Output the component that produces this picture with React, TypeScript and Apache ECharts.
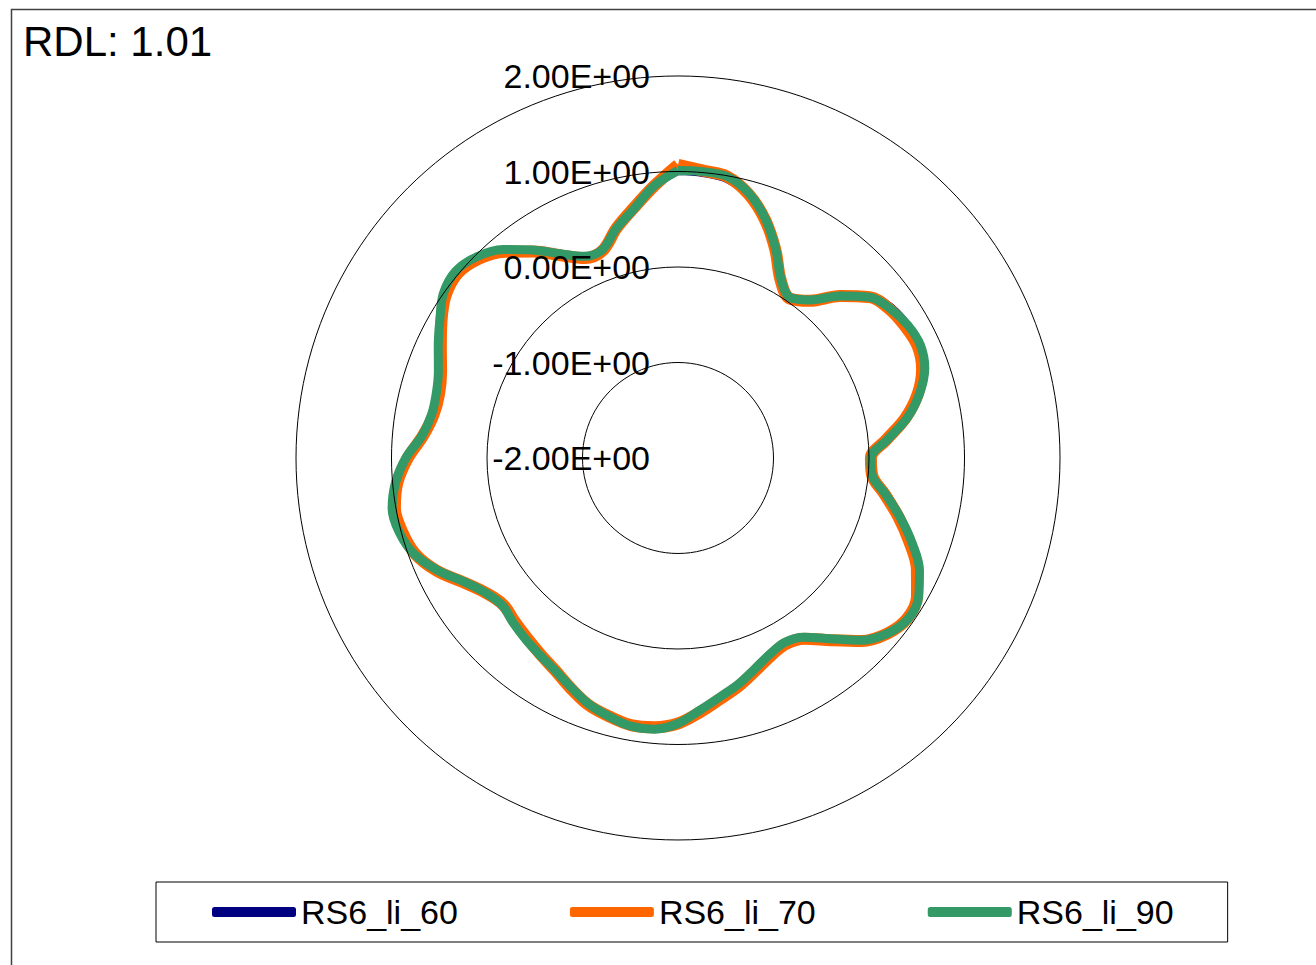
import React, { useEffect, useRef } from "react";
import * as echarts from "echarts";

const TITLE = "RDL: 1.01";
const SERIES_NAMES = ["RS6_li_60", "RS6_li_70", "RS6_li_90"];
const COLORS = ["#000080", "#FF6600", "#339966"];
const LINE_WIDTHS = [7, 12, 9];

const ANGLES = [
  0, 5, 10, 15, 20, 25, 30, 35, 40, 45, 50, 55,
  60, 65, 70, 75, 80, 85, 90, 95, 100, 105, 110, 115,
  120, 125, 130, 135, 140, 145, 150, 155, 160, 165, 170, 175,
  180, 185, 190, 195, 200, 205, 210, 215, 220, 225, 230, 235,
  240, 245, 250, 255, 260, 265, 270, 275, 280, 285, 290, 295,
  300, 305, 310, 315, 320, 325, 330, 335, 340, 345, 350, 355, 360,
];

const RS6_LI_60 = [
  1.0, 0.99, 0.96, 0.84, 0.65, 0.41, 0.16, 0.05, 0.16, 0.41, 0.64, 0.74,
  0.78, 0.79, 0.74, 0.61, 0.44, 0.21, 0.04, 0.06, 0.23, 0.42, 0.61, 0.79,
  0.9, 0.93, 0.86, 0.7, 0.48, 0.3, 0.25, 0.28, 0.36, 0.45, 0.54, 0.65,
  0.77, 0.84, 0.84, 0.8, 0.74, 0.65, 0.56, 0.5, 0.46, 0.43, 0.41, 0.47,
  0.6, 0.78, 0.93, 1.01, 1.03, 0.96, 0.84, 0.68, 0.61, 0.61, 0.66, 0.76,
  0.87, 0.99, 1.03, 0.97, 0.84, 0.65, 0.46, 0.32, 0.32, 0.49, 0.66, 0.86, 1.0,
];

const RS6_LI_70 = [
  1.07, 1.02, 0.99, 0.86, 0.66, 0.41, 0.15, 0.04, 0.15, 0.4, 0.62, 0.71,
  0.75, 0.77, 0.72, 0.6, 0.42, 0.19, 0.02, 0.04, 0.2, 0.39, 0.58, 0.76,
  0.89, 0.93, 0.86, 0.71, 0.49, 0.31, 0.25, 0.29, 0.37, 0.47, 0.56, 0.67,
  0.78, 0.83, 0.84, 0.8, 0.75, 0.66, 0.57, 0.51, 0.46, 0.42, 0.39, 0.46,
  0.6, 0.79, 0.93, 0.99, 1.01, 0.95, 0.83, 0.68, 0.6, 0.59, 0.64, 0.74,
  0.86, 0.97, 1.01, 0.95, 0.82, 0.64, 0.45, 0.31, 0.31, 0.49, 0.66, 0.86, 1.07,
];

const RS6_LI_90 = [
  1.01, 1.01, 0.99, 0.87, 0.67, 0.42, 0.16, 0.05, 0.16, 0.4, 0.62, 0.72,
  0.78, 0.8, 0.75, 0.62, 0.44, 0.2, 0.02, 0.04, 0.21, 0.41, 0.61, 0.79,
  0.91, 0.94, 0.86, 0.7, 0.47, 0.29, 0.23, 0.27, 0.35, 0.45, 0.54, 0.65,
  0.78, 0.85, 0.85, 0.8, 0.74, 0.65, 0.57, 0.52, 0.48, 0.44, 0.4, 0.46,
  0.59, 0.78, 0.94, 1.02, 1.04, 0.97, 0.85, 0.69, 0.62, 0.62, 0.67, 0.77,
  0.88, 1.0, 1.04, 0.98, 0.85, 0.66, 0.47, 0.33, 0.32, 0.49, 0.65, 0.86, 1.01,
];

const SERIES_VALUES = [RS6_LI_60, RS6_LI_70, RS6_LI_90];

const RADIUS_MIN = -2;
const RADIUS_MAX = 2;
const RADIUS_STEP = 1;

const FONT = "'Liberation Sans', Arial, Helvetica, sans-serif";

function sci(v: number): string {
  if (v === 0) return "0.00E+00";
  const sign = v < 0 ? "-" : "";
  const a = Math.abs(v);
  let e = Math.floor(Math.log10(a));
  let m = a / Math.pow(10, e);
  if (Math.round(m * 100) / 100 >= 10) {
    m /= 10;
    e += 1;
  }
  const es = (e < 0 ? "-" : "+") + String(Math.abs(e)).padStart(2, "0");
  return sign + m.toFixed(2) + "E" + es;
}

export default function App() {
  const ref = useRef<HTMLDivElement>(null);

  useEffect(() => {
    if (!ref.current) return;
    const chart = echarts.init(ref.current, null, { renderer: "svg" });
    chart.setOption({
      animation: false,
      backgroundColor: "#ffffff",
      title: {
        text: TITLE,
        left: 23,
        top: 20,
        padding: 0,
        textStyle: {
          fontFamily: FONT,
          fontSize: 42,
          fontWeight: "normal",
          color: "#000",
        },
      },
      polar: {
        center: [678, 458],
        radius: 382,
      },
      angleAxis: {
        type: "value",
        min: 0,
        max: 360,
        startAngle: 90,
        clockwise: true,
        axisLine: { show: false },
        axisTick: { show: false },
        axisLabel: { show: false },
        splitLine: { show: false },
      },
      radiusAxis: {
        type: "value",
        min: RADIUS_MIN,
        max: RADIUS_MAX,
        interval: RADIUS_STEP,
        axisLine: { show: false },
        axisTick: { show: false },
        splitLine: { show: true, lineStyle: { color: "#000", width: 1 } },
        axisLabel: {
          show: true,
          formatter: (v: number) => sci(v),
          fontFamily: FONT,
          fontSize: 34,
          color: "#000",
          margin: 28,
        },
        z: 10,
      },
      legend: {
        left: 156,
        top: 882,
        orient: "horizontal",
        data: SERIES_NAMES,
        icon: "roundRect",
        itemWidth: 84,
        itemHeight: 10,
        itemGap: 112,
        padding: [13, 54, 13, 56],
        borderColor: "#000",
        borderWidth: 1,
        textStyle: {
          fontFamily: FONT,
          fontSize: 34,
          color: "#000",
        },
      },
      graphic: [
        {
          type: "rect",
          left: 9,
          top: 7,
          shape: { width: 1400, height: 1000 },
          style: { fill: "none", stroke: "#404040", lineWidth: 1.5 },
          silent: true,
        },
      ],
      series: SERIES_NAMES.map((name, k) => ({
        name,
        type: "line",
        coordinateSystem: "polar",
        showSymbol: false,
        symbol: "none",
        smooth: 0.35,
        color: COLORS[k],
        lineStyle: { color: COLORS[k], width: LINE_WIDTHS[k] },
        data: ANGLES.map((a, i) => [SERIES_VALUES[k][i], a]),
        z: 2 + k,
      })),
    });
    return () => chart.dispose();
  }, []);

  return (
    <div
      ref={ref}
      style={{ position: "absolute", left: 0, top: 0, width: 1316, height: 965 }}
    />
  );
}
